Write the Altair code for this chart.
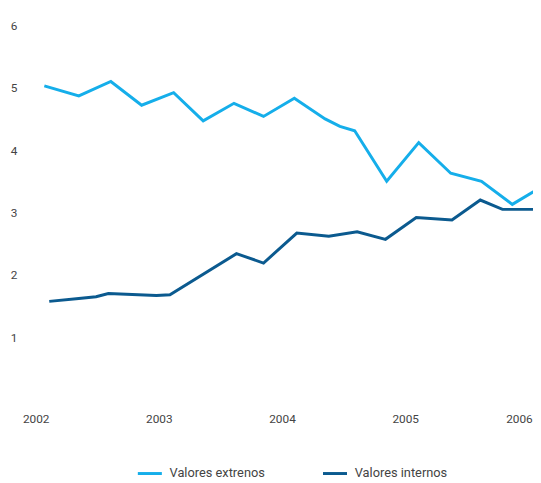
import altair as alt
import pandas as pd

series_names = ["Valores extrenos", "Valores internos"]
colors = ["#15AEEA", "#0B5A8F"]

ext_x = [2002.07, 2002.35, 2002.61, 2002.86, 2003.12, 2003.36, 2003.61, 2003.85, 2004.10,
         2004.35, 2004.47, 2004.59, 2004.85, 2005.11, 2005.37, 2005.62, 2005.87, 2006.10]
ext_y = [5.03, 4.87, 5.10, 4.72, 4.92, 4.47, 4.75, 4.54, 4.83,
         4.50, 4.38, 4.31, 3.50, 4.12, 3.63, 3.50, 3.13, 3.40]
int_x = [2002.11, 2002.35, 2002.49, 2002.59, 2002.98, 2003.09, 2003.63, 2003.85, 2004.12,
         2004.38, 2004.61, 2004.84, 2005.09, 2005.38, 2005.61, 2005.79, 2006.10]
int_y = [1.575, 1.62, 1.65, 1.70, 1.67, 1.68, 2.34, 2.19, 2.67,
         2.62, 2.69, 2.57, 2.92, 2.88, 3.20, 3.05, 3.05]
year_ticks = [2002, 2003, 2004, 2005, 2006]
value_ticks = [1, 2, 3, 4, 5, 6]

rows = []
for i, (x, y) in enumerate(zip(ext_x, ext_y)):
    rows.append({"t": x, "v": y, "serie": series_names[0], "o": i})
for i, (x, y) in enumerate(zip(int_x, int_y)):
    rows.append({"t": x, "v": y, "serie": series_names[1], "o": i})
df = pd.DataFrame(rows)

font = "Roboto"

chart = alt.Chart(df).mark_line(strokeWidth=3, strokeCap="butt", strokeJoin="miter").encode(
    x=alt.X("t:Q", scale=alt.Scale(domain=[2001.871, 2006.038], nice=False, zero=False),
            axis=alt.Axis(values=year_ticks, format="d", title=None, labelPadding=14,
                          labelFlush=10, labelFlushOffset=4)),
    y=alt.Y("v:Q", scale=alt.Scale(domain=[0, 6], nice=False),
            axis=alt.Axis(values=value_ticks, format="d", title=None, labelPadding=3)),
    color=alt.Color("serie:N", scale=alt.Scale(domain=series_names, range=colors),
                    legend=alt.Legend(title=None, orient="none", direction="horizontal",
                                      legendX=118, legendY=441, symbolType="stroke",
                                      symbolSize=595, symbolStrokeWidth=3,
                                      labelFont=font, labelFontSize=13, labelColor="#444444",
                                      columnPadding=52, labelOffset=6)),
    order="o:Q",
).properties(
    width=521, height=380,
    autosize=alt.AutoSizeParams(type="none"),
    padding={"left": 12, "top": 14, "right": 0, "bottom": 81},
).configure_view(stroke=None).configure_axis(
    grid=False, domain=False, ticks=False, labelFont=font, labelFontSize=12,
    labelColor="#444444"
)

chart.save("out.html", embed_options={"renderer": "svg", "actions": False})
